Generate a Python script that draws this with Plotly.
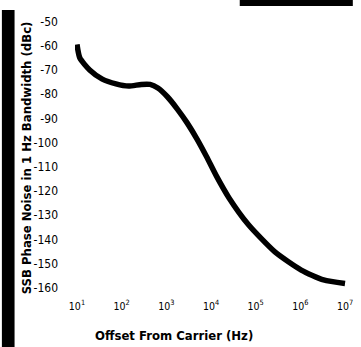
import plotly.graph_objects as go

# Offset frequency (log10 of Hz) and SSB phase noise (dBc/Hz)
log_offset = [1.0, 1.065, 1.284, 1.567, 1.873, 2.157, 2.44, 2.637, 2.811, 3.029, 3.247,
              3.466, 3.684, 3.902, 4.12, 4.404, 4.84, 5.43, 6.02, 6.52, 7.0]
phase_noise = [-59.5, -65.1, -70.0, -73.8, -75.8, -76.7, -76.0, -76.0, -77.5, -81.2, -86.2,
               -91.9, -98.5, -105.9, -113.8, -122.9, -134.0, -145.2, -152.7, -156.8, -158.3]
offset_hz = [10 ** v for v in log_offset]

x_tick_vals = [1e1, 1e2, 1e3, 1e4, 1e5, 1e6, 1e7]
x_tick_text = ["10<sup>1</sup>", "10<sup>2</sup>", "10<sup>3</sup>", "10<sup>4</sup>",
               "10<sup>5</sup>", "10<sup>6</sup>", "10<sup>7</sup>"]
y_tick_vals = [-50, -60, -70, -80, -90, -100, -110, -120, -130, -140, -150, -160]
y_tick_text = ["-50", "-60", "-70", "-80", "-90", "-100", "-110", "-120", "-130",
               "-140", "-150", "-160"]

x_title = "Offset From Carrier (Hz)"
y_title = "SSB Phase Noise in 1 Hz Bandwidth (dBc)"

NARROW = "Liberation Sans Narrow, DejaVu Sans Condensed, Arial Narrow, sans-serif"

fig = go.Figure()
fig.add_trace(go.Scatter(
    x=offset_hz, y=phase_noise, mode="lines",
    line=dict(color="black", width=5.5, shape="spline", smoothing=0.6),
    hoverinfo="skip", showlegend=False,
))

W, H = 361, 347
ML, MR, MT, MB = 75, 8, 19, 57
pw, ph = W - ML - MR, H - MT - MB


def px_x(px):
    return (px - ML) / pw


def px_y(py):
    return (H - MB - py) / ph


fig.update_layout(
    width=W, height=H,
    margin=dict(l=ML, r=MR, t=MT, b=MB, pad=0),
    paper_bgcolor="white", plot_bgcolor="white",
    font=dict(family=NARROW, color="black", size=12),
    xaxis=dict(
        type="log", range=[0.956, 7.022],
        tickvals=x_tick_vals, ticktext=x_tick_text,
        showgrid=False, zeroline=False, showline=False, ticks="",
        ticklabelstandoff=8,
        tickfont=dict(size=10.5, family=NARROW, color="black"),
    ),
    yaxis=dict(
        range=[-160.95, -48.97],
        tickvals=y_tick_vals, ticktext=y_tick_text,
        showgrid=False, zeroline=False, showline=False, ticks="",
        ticklabelstandoff=16,
        tickfont=dict(size=12, family=NARROW, color="black"),
    ),
    shapes=[
        dict(type="rect", xref="paper", yref="paper",
             x0=px_x(0), x1=px_x(13), y0=px_y(347), y1=px_y(10),
             fillcolor="black", line=dict(width=0), layer="above"),
        dict(type="rect", xref="paper", yref="paper",
             x0=px_x(244), x1=px_x(360), y0=px_y(6), y1=px_y(0),
             fillcolor="black", line=dict(width=0), layer="above"),
    ],
    annotations=[
        dict(text="<b>" + x_title + "</b>", xref="paper", yref="paper",
             x=px_x(177), y=px_y(335), xanchor="center", yanchor="middle",
             showarrow=False, font=dict(size=13, family=NARROW, color="black")),
        dict(text="<b>" + y_title + "</b>", xref="paper", yref="paper",
             x=px_x(26), y=px_y(158), xanchor="center", yanchor="middle",
             textangle=-90, showarrow=False,
             font=dict(size=13, family=NARROW, color="black")),
    ],
)

fig.write_html(
    "out.html",
    config={"displayModeBar": False},
    post_script="document.body.style.margin='0';document.body.style.overflow='hidden';",
)
